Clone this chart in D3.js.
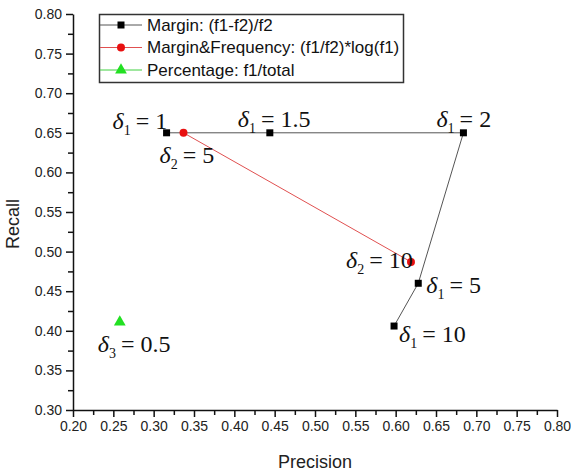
<!DOCTYPE html>
<html>
<head>
<meta charset="utf-8">
<script src="https://cdn.jsdelivr.net/npm/d3@7"></script>
<style>
  body { margin: 0; background: #fff; }
  svg { display: block; }
  .axis text { font-family: "Liberation Sans", Arial, sans-serif; font-size: 14px; fill: #222; }
  .axis path, .axis line { stroke: #111; stroke-width: 1.5; }
  .axis-label { font-family: "Liberation Sans", Arial, sans-serif; font-size: 18px; fill: #222; }
  .legend text { font-family: "Liberation Sans", Arial, sans-serif; font-size: 17px; fill: #111; }
  .note { font-family: "Liberation Serif", "Times New Roman", serif; font-size: 24px; fill: #111; }
</style>
</head>
<body>
<div id="chart"></div>
<script>
// Data
const marginPrecision = [0.316, 0.444, 0.684, 0.628, 0.598];
const marginRecall = [0.65, 0.65, 0.65, 0.460, 0.406];
const marginDelta = ['1', '1.5', '2', '5', '10'];

const freqPrecision = [0.337, 0.619];
const freqRecall = [0.65, 0.487];
const freqDelta = ['5', '10'];

const pctPrecision = [0.258];
const pctRecall = [0.411];
const pctDelta = ['0.5'];

const xTicks = [0.20, 0.25, 0.30, 0.35, 0.40, 0.45, 0.50, 0.55, 0.60, 0.65, 0.70, 0.75, 0.80];
const yTicks = [0.30, 0.35, 0.40, 0.45, 0.50, 0.55, 0.60, 0.65, 0.70, 0.75, 0.80];

const seriesNames = [
    'Margin: (f1-f2)/f2',
    'Margin&Frequency: (f1/f2)*log(f1)',
    'Percentage: f1/total'
];

// label offsets (pixels) from each point
const marginOffsets = [[-54, -4], [-32, -6], [-27, -6], [8, 10], [5, 16]];
const freqOffsets = [[-24, 30], [-65, 6]];
const pctOffsets = [[-22, 30]];

const width = 571, height = 476;
const margin = { top: 14, right: 14, bottom: 66, left: 73 };

const svg = d3.select('#chart').append('svg')
    .attr('width', width)
    .attr('height', height);

const x = d3.scaleLinear().domain([0.2, 0.8]).range([margin.left, width - margin.right]);
const y = d3.scaleLinear().domain([0.3, 0.8]).range([height - margin.bottom, margin.top]);

const fmt = d3.format('.2f');

// minor ticks
const xMinor = d3.range(0, 12).map(i => 0.225 + i * 0.05);
const yMinor = d3.range(0, 10).map(i => 0.325 + i * 0.05);

svg.append('g')
    .attr('class', 'axis')
    .attr('transform', `translate(0,${y(0.3)})`)
    .call(d3.axisBottom(x).tickValues(xMinor).tickSize(5).tickFormat(''))
    .call(g => g.select('.domain').remove());

svg.append('g')
    .attr('class', 'axis')
    .attr('transform', `translate(${x(0.2)},0)`)
    .call(d3.axisLeft(y).tickValues(yMinor).tickSize(5).tickFormat(''))
    .call(g => g.select('.domain').remove());

svg.append('g')
    .attr('class', 'axis')
    .attr('transform', `translate(0,${y(0.3)})`)
    .call(d3.axisBottom(x).tickValues(xTicks).tickSize(7).tickSizeOuter(0).tickPadding(4).tickFormat(fmt));

svg.append('g')
    .attr('class', 'axis')
    .attr('transform', `translate(${x(0.2)},0)`)
    .call(d3.axisLeft(y).tickValues(yTicks).tickSize(7).tickSizeOuter(0).tickPadding(4).tickFormat(fmt));

svg.append('text')
    .attr('class', 'axis-label')
    .attr('x', (x(0.2) + x(0.8)) / 2)
    .attr('y', 468)
    .attr('text-anchor', 'middle')
    .text('Precision');

svg.append('text')
    .attr('class', 'axis-label')
    .attr('transform', `translate(19,${(y(0.3) + y(0.8)) / 2 + 12}) rotate(-90)`)
    .attr('text-anchor', 'middle')
    .text('Recall');

const line = d3.line().x(d => x(d[0])).y(d => y(d[1]));

const marginPts = marginPrecision.map((p, i) => [p, marginRecall[i]]);
const freqPts = freqPrecision.map((p, i) => [p, freqRecall[i]]);
const pctPts = pctPrecision.map((p, i) => [p, pctRecall[i]]);

svg.append('path').datum(marginPts)
    .attr('d', line).attr('fill', 'none').attr('stroke', '#555').attr('stroke-width', 1);
svg.append('path').datum(freqPts)
    .attr('d', line).attr('fill', 'none').attr('stroke', '#e05050').attr('stroke-width', 1);

const square = d3.symbol().type(d3.symbolSquare).size(49);
const circle = d3.symbol().type(d3.symbolCircle).size(50);
const triangle = d3.symbol().type(d3.symbolTriangle).size(60);

svg.append('g').selectAll('path').data(marginPts).join('path')
    .attr('d', square).attr('fill', '#000')
    .attr('transform', d => `translate(${x(d[0])},${y(d[1])})`);
svg.append('g').selectAll('path').data(freqPts).join('path')
    .attr('d', circle).attr('fill', '#e81010')
    .attr('transform', d => `translate(${x(d[0])},${y(d[1])})`);
svg.append('g').selectAll('path').data(pctPts).join('path')
    .attr('d', triangle).attr('fill', '#22e022')
    .attr('transform', d => `translate(${x(d[0])},${y(d[1])})`);

// delta annotations
function addNote(pts, values, offsets, sub) {
    pts.forEach((d, i) => {
        const t = svg.append('text')
            .attr('class', 'note')
            .attr('x', x(d[0]) + offsets[i][0])
            .attr('y', y(d[1]) + offsets[i][1]);
        t.append('tspan').attr('font-style', 'italic').text('\u03b4');
        t.append('tspan').attr('font-size', '14px').attr('dy', 6).text(sub);
        t.append('tspan').attr('dy', -6).attr('dx', 5).text('=');
        t.append('tspan').attr('dx', 6).text(values[i]);
    });
}
addNote(marginPts, marginDelta, marginOffsets, '1');
addNote(freqPts, freqDelta, freqOffsets, '2');
addNote(pctPts, pctDelta, pctOffsets, '3');

// legend
const legend = svg.append('g').attr('class', 'legend');
legend.append('rect')
    .attr('x', 99.5).attr('y', 14.5).attr('width', 304).attr('height', 68)
    .attr('fill', '#fff').attr('stroke', '#333').attr('stroke-width', 1.5);

const legendColors = ['#555', '#e05050', '#40d040'];
const legendFills = ['#000', '#e81010', '#22e022'];
const legendSymbols = [square, circle, triangle];

seriesNames.forEach((name, i) => {
    const cy = 25 + i * 22.5;
    legend.append('line')
        .attr('x1', 100).attr('x2', 142).attr('y1', cy).attr('y2', cy)
        .attr('stroke', legendColors[i]).attr('stroke-width', 1);
    legend.append('path')
        .attr('d', legendSymbols[i]).attr('fill', legendFills[i])
        .attr('transform', `translate(121,${cy})`);
    legend.append('text')
        .attr('x', 147).attr('y', cy).attr('dy', '0.35em')
        .text(name);
});
</script>
</body>
</html>
